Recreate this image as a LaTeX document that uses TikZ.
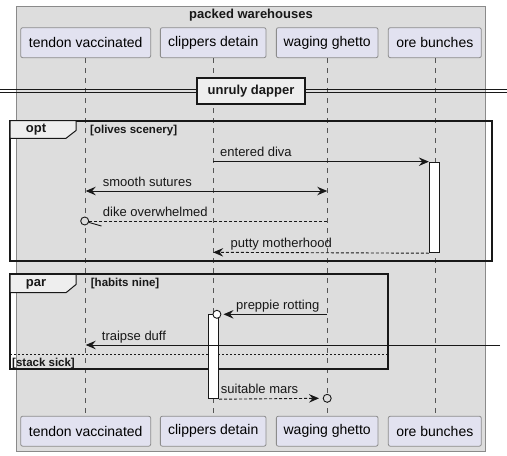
\documentclass[tikz,border=0pt]{standalone}
\usepackage{fontspec}
\setmainfont{Liberation Sans}
\usetikzlibrary{arrows.meta,calc}
\definecolor{grpbg}{HTML}{DDDDDD}
\definecolor{grpline}{HTML}{8A8A8A}
\definecolor{partfill}{HTML}{E2E2F0}
\definecolor{partline}{HTML}{8C8C8C}
\definecolor{tabfill}{HTML}{EEEEEE}
\definecolor{ink}{HTML}{181818}
\definecolor{life}{HTML}{555555}
\tikzset{
  part/.style={draw=partline, fill=partfill, rounded corners=2pt, minimum height=30pt, inner sep=0pt, line width=0.8pt, font=\fontsize{14}{16}\selectfont},
  lifeline/.style={draw=life, line width=0.6pt, dash pattern=on 5pt off 5pt},
  msg/.style={draw=ink, line width=0.9pt},
  dmsg/.style={draw=ink, line width=0.9pt, dash pattern=on 3pt off 2pt},
  tip/.style={-{Stealth[length=10pt,width=8.5pt,inset=3.5pt]}},
  both/.style={{Stealth[length=10pt,width=8.5pt,inset=3.5pt]}-{Stealth[length=10pt,width=8.5pt,inset=3.5pt]}},
  lbl/.style={anchor=base west, inner sep=0pt, text=ink, font=\fontsize{13}{15}\selectfont},
  guard/.style={anchor=west, inner sep=0pt, text=ink, font=\bfseries\fontsize{11.5}{13}\selectfont},
  frame/.style={draw=ink, line width=1.9pt},
  tab/.style={draw=ink, fill=tabfill, line width=1pt},
  act/.style={draw=ink, fill=white, line width=0.9pt, minimum width=10pt, inner sep=0pt, anchor=north},
  circ/.style={draw=ink, line width=0.9pt, fill=grpbg},
}
\begin{document}
\begin{tikzpicture}[x=1pt,y=-1pt]
\useasboundingbox (0,0) rectangle (507,456);
% group box
\node[draw=grpline, fill=grpbg, line width=0.8pt, anchor=north west, minimum width=469.3pt, minimum height=444.7pt, inner sep=0pt] (grp) at (15.7,6) {};
\node[font=\bfseries\fontsize{13}{15}\selectfont, text=ink, inner sep=0pt] (grptitle) at (251,15) {packed warehouses};
% participants top
\node[part, minimum width=130pt] (tvT) at (85.7,42.7) {tendon vaccinated};
\node[part, minimum width=105.7pt] (cdT) at (213.2,42.7) {clippers detain};
\node[part, minimum width=101.7pt] (wgT) at (327.2,42.7) {waging ghetto};
\node[part, minimum width=93pt] (obT) at (434.8,42.7) {ore bunches};
% participants bottom
\node[part, minimum width=130pt] (tvB) at (85.7,431.2) {tendon vaccinated};
\node[part, minimum width=105.7pt] (cdB) at (213.2,431.2) {clippers detain};
\node[part, minimum width=101.7pt] (wgB) at (327.2,431.2) {waging ghetto};
\node[part, minimum width=93pt] (obB) at (434.8,431.2) {ore bunches};
% lifelines
\draw[lifeline] (tvT.south) -- (tvB.north);
\draw[lifeline] (cdT.south) -- (cdB.north);
\draw[lifeline] (wgT.south) -- (wgB.north);
\draw[lifeline] (obT.south) -- (obB.north);
% divider
\coordinate (dL1) at (0,89.3); \coordinate (dR1) at (507,89.3);
\coordinate (dL2) at (0,92.7); \coordinate (dR2) at (507,92.7);
\draw[ink, line width=0.9pt] (dL1) -- (dR1);
\draw[ink, line width=0.9pt] (dL2) -- (dR2);
\node[draw=ink, fill=tabfill, line width=1.5pt, minimum width=108pt, minimum height=26pt, inner sep=0pt, font=\bfseries\fontsize{13}{15}\selectfont, text=ink] (divider) at (251,91) {unruly dapper};
% opt frame
\draw[frame] (10,120.7) rectangle (492,260.7);
\draw[tab] (10,120.7) -- (76,120.7) -- (76,130.5) -- (66,138.3) -- (10,138.3) -- cycle;
\node[font=\bfseries\fontsize{13}{15}\selectfont, text=ink, inner sep=0pt] (optlbl) at (36,129.5) {opt};
\node[guard] (optg) at (90,130.5) {[olives scenery]};
% activation on ore bunches
\node[act, minimum height=90.6pt] (actOB) at (434.3,161.7) {};
% entered diva
\coordinate (m1s) at (cdT.south |- 0,161.7);
\draw[msg, tip] (m1s) -- (actOB.north west);
\node[lbl] (m1l) at (220,156.7) {entered diva};
% smooth sutures
\coordinate (m2a) at (tvT.south |- 0,191);
\coordinate (m2b) at (wgT.south |- 0,191);
\draw[msg, both] (m2a) -- (m2b);
\node[lbl] (m2l) at (102.7,186) {smooth sutures};
% dike overwhelmed
\coordinate (m3s) at (wgT.south |- 0,221);
\coordinate (m3c) at (84.7,221);
\draw[dmsg] (m3s) -- (88.7,221);
\draw[circ] (m3c) circle (4pt);
\draw[ink, line width=0.9pt] (88.5,222.3) -- (101.5,226);
\node[lbl] (m3l) at (102.7,216) {dike overwhelmed};
% putty motherhood
\coordinate (m4e) at (cdT.south |- 0,252.3);
\draw[dmsg, tip] (actOB.south west) -- (m4e);
\node[lbl] (m4l) at (230.5,247.3) {putty motherhood};
% par frame
\draw[frame] (10,274.3) rectangle (388.3,369.3);
\draw[tab] (10,274.3) -- (76,274.3) -- (76,284.5) -- (66,292.7) -- (10,292.7) -- cycle;
\node[font=\bfseries\fontsize{13}{15}\selectfont, text=ink, inner sep=0pt] (parlbl) at (36,284) {par};
\node[guard] (parg) at (90.7,283.3) {[habits nine]};
\draw[ink, line width=0.8pt, dash pattern=on 2pt off 2pt] (10,354.3) -- (388.3,354.3);
\node[guard] (else) at (12,363.5) {[stack sick]};
% activation on clippers
\node[act, minimum height=84pt] (actCD) at (213.7,314.3) {};
% preppie rotting
\coordinate (m5s) at (wgT.south |- 0,314.3);
\coordinate (m5c) at (216.9,314.3);
\draw[msg, tip] (m5s) -- (223.5,314.3);
\draw[circ, fill=white] (m5c) circle (4pt);
\node[lbl] (m5l) at (236,309.3) {preppie rotting};
% traipse duff
\coordinate (m6s) at (500,345);
\coordinate (m6e) at (tvT.south |- 0,345);
\draw[msg, tip] (m6s) -- (m6e);
\node[lbl] (m6l) at (101.7,340) {traipse duff};
% suitable mars
\coordinate (m7c) at (wgT.south |- 0,398.3);
\draw[dmsg, tip] (actCD.south east) -- (319,398.3);
\draw[circ] (m7c) circle (4pt);
\node[lbl] (m7l) at (220.7,393.3) {suitable mars};
\end{tikzpicture}
\end{document}
